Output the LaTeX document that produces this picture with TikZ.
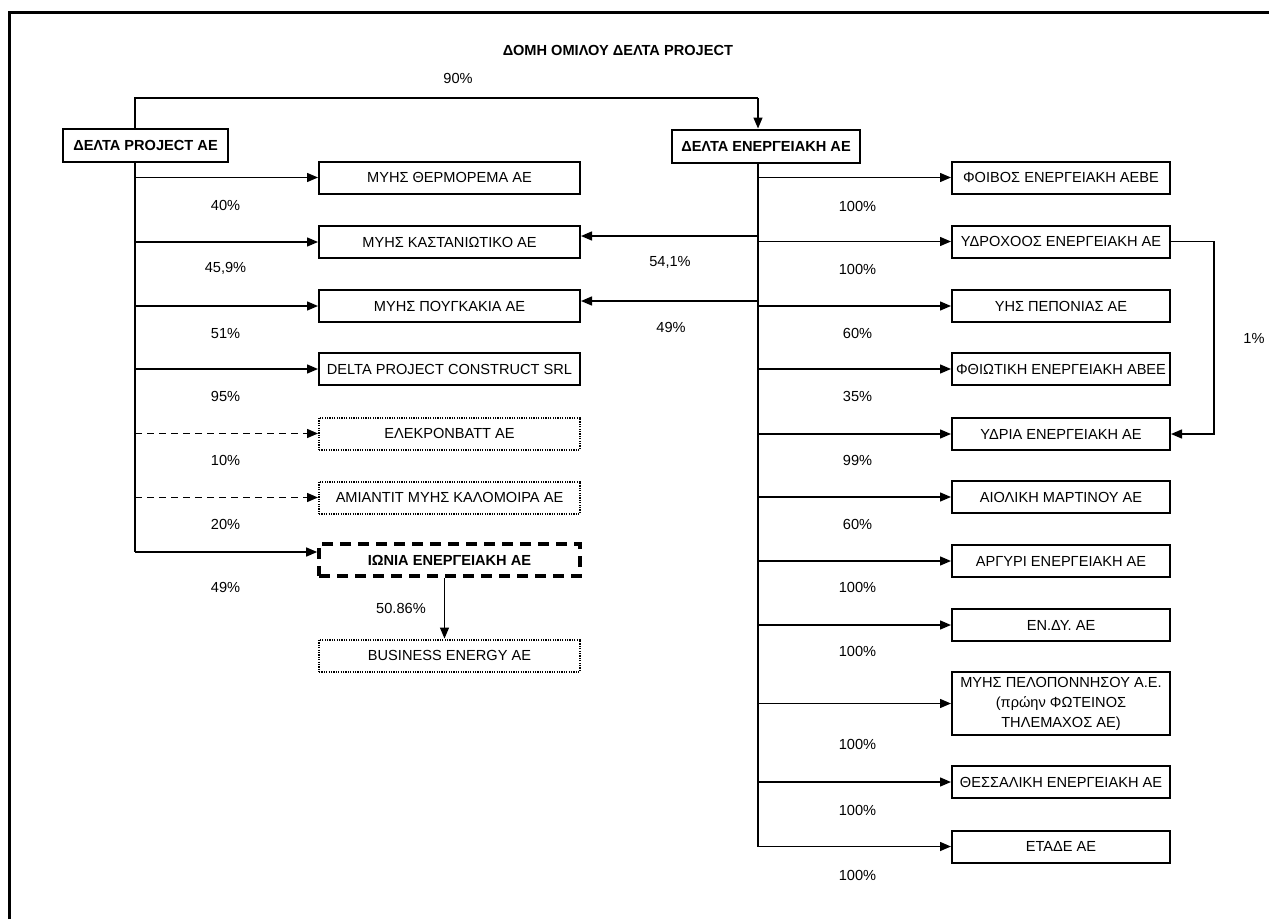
\documentclass[tikz,border=0pt]{standalone}
\usepackage{fontspec}
\setmainfont{Liberation Sans}
\usetikzlibrary{arrows.meta}
\begin{document}
\begin{tikzpicture}[x=1pt,y=-1pt,
  txt/.style={font=\fontsize{14.6pt}{17pt}\selectfont, inner sep=0pt},
  btxt/.style={font=\fontsize{14.6pt}{17pt}\selectfont\bfseries, inner sep=0pt},
  box/.style={txt, draw, line width=2pt, minimum height=32pt},
  lbox/.style={box, minimum width=261pt},
  rbox/.style={box, minimum width=218pt},
  dotbox/.style={lbox, line width=2pt, dash pattern=on 1.2pt off 1.2pt},
  thickdash/.style={lbox, btxt, line width=3.6pt, dash pattern=on 11pt off 7pt},
  topbox/.style={btxt, draw, line width=2pt, minimum height=33pt},
  conn/.style={line width=1.4pt},
  arr/.style={conn, -{Triangle[length=11pt,width=9pt]}},
  darr/.style={arr, dash pattern=on 7pt off 5pt},
  pct/.style={txt}
]
\useasboundingbox (0,0) rectangle (1269,919);
% frame
\draw[line width=3pt] (9.5,919) -- (9.5,12.5) -- (1269,12.5);

% title
\node[btxt] (title) at (618,50) {ΔΟΜΗ ΟΜΙΛΟΥ ΔΕΛΤΑ PROJECT};
\node[pct] (p90) at (458,78) {90\%};

% parents
\node[topbox, minimum width=165pt] (dpa) at (145.5,145.5) {ΔΕΛΤΑ PROJECT ΑΕ};
\node[topbox, minimum width=188pt] (dea) at (766,146) {ΔΕΛΤΑ ΕΝΕΡΓΕΙΑΚΗ ΑΕ};

% left children
\node[lbox] (m1) at (449.5,177.5) {ΜΥΗΣ ΘΕΡΜΟΡΕΜΑ ΑΕ};
\node[lbox] (m2) at (449.5,242) {ΜΥΗΣ ΚΑΣΤΑΝΙΩΤΙΚΟ ΑΕ};
\node[lbox] (m3) at (449.5,306) {ΜΥΗΣ ΠΟΥΓΚΑΚΙΑ ΑΕ};
\node[lbox] (m4) at (449.5,369) {DELTA PROJECT CONSTRUCT SRL};
\node[dotbox] (m5) at (449.5,433.5) {ΕΛΕΚΡΟΝΒΑΤΤ ΑΕ};
\node[dotbox] (m6) at (449.5,497.5) {ΑΜΙΑΝΤΙΤ ΜΥΗΣ ΚΑΛΟΜΟΙΡΑ ΑΕ};
\node[thickdash] (ionia) at (449.5,560) {ΙΩΝΙΑ ΕΝΕΡΓΕΙΑΚΗ ΑΕ};
\node[dotbox] (bus) at (449.5,655.5) {BUSINESS ENERGY ΑΕ};

% right children
\node[rbox] (r1) at (1061,177.5) {ΦΟΙΒΟΣ ΕΝΕΡΓΕΙΑΚΗ ΑΕΒΕ};
\node[rbox] (r2) at (1061,241.5) {ΥΔΡΟΧΟΟΣ ΕΝΕΡΓΕΙΑΚΗ ΑΕ};
\node[rbox] (r3) at (1061,306) {ΥΗΣ ΠΕΠΟΝΙΑΣ ΑΕ};
\node[rbox] (r4) at (1061,369) {ΦΘΙΩΤΙΚΗ ΕΝΕΡΓΕΙΑΚΗ ΑΒΕΕ};
\node[rbox] (r5) at (1061,434) {ΥΔΡΙΑ ΕΝΕΡΓΕΙΑΚΗ ΑΕ};
\node[rbox] (r6) at (1061,497) {ΑΙΟΛΙΚΗ ΜΑΡΤΙΝΟΥ ΑΕ};
\node[rbox] (r7) at (1061,561) {ΑΡΓΥΡΙ ΕΝΕΡΓΕΙΑΚΗ ΑΕ};
\node[rbox] (r8) at (1061,625) {ΕΝ.ΔΥ. ΑΕ};
\node[rbox, minimum height=63pt, align=center, font=\fontsize{14.6pt}{20pt}\selectfont] (r9) at (1061,703.5) {ΜΥΗΣ ΠΕΛΟΠΟΝΝΗΣΟΥ Α.Ε.\\(πρώην ΦΩΤΕΙΝΟΣ\\ΤΗΛΕΜΑΧΟΣ ΑΕ)};
\node[rbox] (r10) at (1061,782) {ΘΕΣΣΑΛΙΚΗ ΕΝΕΡΓΕΙΑΚΗ ΑΕ};
\node[rbox] (r11) at (1061,846.5) {ΕΤΑΔΕ ΑΕ};

% top connection
\coordinate (ltop) at (135,98);
\coordinate (rtop) at (758,98);
\draw[conn] (ltop |- dpa.north) -- (ltop) -- (rtop);
\draw[arr] (rtop) -- (rtop |- dea.north);

% left trunk
\coordinate (ia) at ([yshift=8pt]ionia.west);
\draw[conn] (ltop |- dpa.south) -- (ltop |- ia);
\draw[arr] (ltop |- m1.west) -- (m1.west);
\draw[arr] (ltop |- m2.west) -- (m2.west);
\draw[arr] (ltop |- m3.west) -- (m3.west);
\draw[arr] (ltop |- m4.west) -- (m4.west);
\draw[darr] (ltop |- m5.west) -- (m5.west);
\draw[darr] (ltop |- m6.west) -- (m6.west);
\draw[arr] (ltop |- ia) -- (ia);
\draw[arr] ([xshift=-5pt]ionia.south) -- ([xshift=-5pt]bus.north);

% right trunk
\draw[conn] (rtop |- dea.south) -- (rtop |- r11.west);
\foreach \n in {r1,r2,r3,r4,r5,r6,r7,r8,r9,r10,r11}{
  \draw[arr] (rtop |- \n.west) -- (\n.west);
}
% cross holdings
\coordinate (c2) at ([yshift=6pt]m2.east);
\coordinate (c3) at ([yshift=5pt]m3.east);
\draw[arr] (rtop |- c2) -- (c2);
\draw[arr] (rtop |- c3) -- (c3);
% 1% link
\draw[arr] (r2.east) -- ++(43,0) |- (r5.east);

% percentages left
\node[pct] (l1) at (225.5,205) {40\%};
\node[pct] (l2) at (225.5,268) {45,9\%};
\node[pct] (l3) at (225.5,333) {51\%};
\node[pct] (l4) at (225.5,396) {95\%};
\node[pct] (l5) at (225.5,460) {10\%};
\node[pct] (l6) at (225.5,524) {20\%};
\node[pct] (l7) at (225.5,587) {49\%};
\node[pct] (l8) at (401,608) {50.86\%};
% cross
\node[pct] (x1) at (670,262) {54,1\%};
\node[pct] (x2) at (671,327) {49\%};
% right
\node[pct] (q1) at (857.5,206) {100\%};
\node[pct] (q2) at (857.5,269) {100\%};
\node[pct] (q3) at (857.5,333) {60\%};
\node[pct] (q4) at (857.5,396) {35\%};
\node[pct] (q5) at (857.5,460) {99\%};
\node[pct] (q6) at (857.5,524) {60\%};
\node[pct] (q7) at (857.5,587) {100\%};
\node[pct] (q8) at (857.5,651) {100\%};
\node[pct] (q9) at (857.5,744) {100\%};
\node[pct] (q10) at (857.5,810) {100\%};
\node[pct] (q11) at (857.5,875) {100\%};
\node[pct] (one) at (1254,338) {1\%};
\end{tikzpicture}
\end{document}
